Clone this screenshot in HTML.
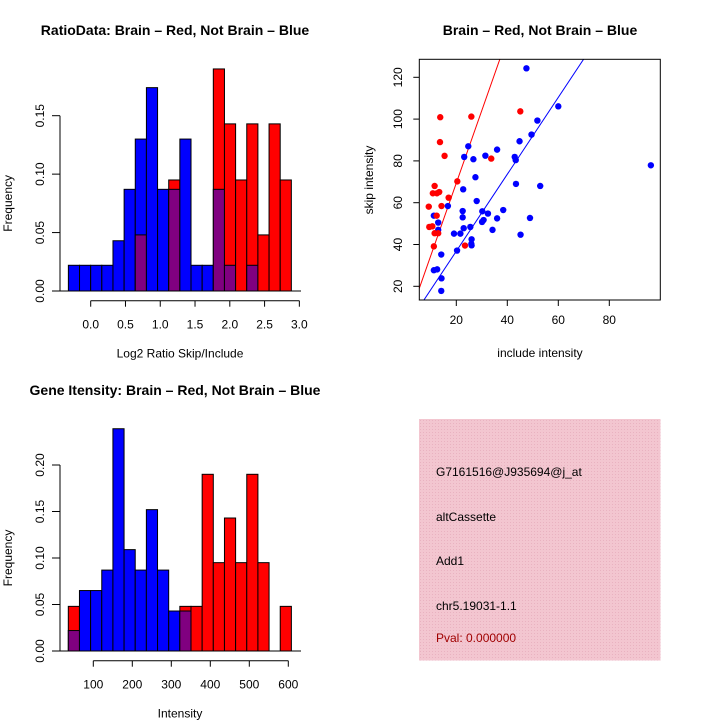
<!DOCTYPE html>
<html><head><meta charset="utf-8"><style>
html,body{margin:0;padding:0;background:#fff;}
svg{display:block;font-family:"Liberation Sans",sans-serif;}
</style></head><body>
<svg id="c" width="720" height="720" viewBox="0 0 720 720">
<rect width="720" height="720" fill="#fff"/>
<defs><pattern id="hatch" width="3" height="3" patternUnits="userSpaceOnUse"><rect width="3" height="3" fill="#f3c6d0"/><rect width="1" height="1" fill="#e9b2c0"/></pattern></defs>
<g id="p1"></g>
<g id="p2"></g>
<g id="p3"></g>
<g id="p4">
<rect x="419" y="419" width="241.5" height="241.5" fill="url(#hatch)"/>
<text x="436" y="476" font-size="12">G7161516@J935694@j_at</text>
<text x="436" y="521" font-size="12">altCassette</text>
<text x="436" y="565" font-size="12">Add1</text>
<text x="436" y="610" font-size="12">chr5.19031-1.1</text>
<text x="436" y="642" font-size="12" fill="#a00000">Pval: 0.000000</text>
</g>
</svg>
<script>
// ---- histogram 1 data ----
const h1Start = -0.321, h1Width = 0.1603;
const h1Blue = [0.022,0.022,0.022,0.022,0.043,0.087,0.130,0.174,0.087,0.087,0.130,0.022,0.022,0.087,0.022,0,0.022,0,0,0];
const h1Red  = [0,0,0,0,0,0,0.048,0,0,0.095,0,0,0,0.190,0.143,0.095,0.143,0.048,0.143,0.095];
const h1XTicks = [0.0,0.5,1.0,1.5,2.0,2.5,3.0];
const h1XLabels = ["0.0","0.5","1.0","1.5","2.0","2.5","3.0"];
const h1YTicks = [0,0.05,0.10,0.15];
const h1YLabels = ["0.00","0.05","0.10","0.15"];
// ---- histogram 2 data ----
const h2Start = 35.9, h2Width = 28.6;
const h2Blue = [0.022,0.065,0.065,0.087,0.239,0.109,0.087,0.152,0.087,0.043,0.043,0,0,0,0,0,0,0,0,0];
const h2Red  = [0.048,0,0,0,0,0,0,0,0,0,0.048,0.048,0.190,0.095,0.143,0.095,0.190,0.095,0,0.048];
const h2XTicks = [100,200,300,400,500,600];
const h2XLabels = ["100","200","300","400","500","600"];
const h2YTicks = [0,0.05,0.10,0.15,0.20];
const h2YLabels = ["0.00","0.05","0.10","0.15","0.20"];
// ---- scatter data ----
const blueX = [47.5,60,51.8,49.5,44.8,24.7,36,31.4,23.1,42.9,26.7,43.3,96.3,27.5,43.4,52.9,22.7,28,16.7,38.4,22.5,30.2,32.4,11.2,22.5,36,48.9,30.7,30.1,12.9,12.9,22.9,25.5,34.2,19.1,21.6,45.2,26,25.9,26,20.3,14.1,11.2,12.5,14.2,14.1];
const blueY = [124.3,106.1,99.3,92.6,89.4,87,85.4,82.5,81.9,81.9,80.8,80.4,77.9,72.2,69,68,66.4,60.8,58.4,56.5,56,55.9,54.8,53.8,53,52.5,52.7,51.7,50.8,50.5,47,47.8,48.4,47,45.2,45.2,44.7,42.5,40.3,39.6,37.1,35.2,27.7,28.1,23.8,17.8];
const redX = [13.7,25.9,45.1,13.6,15.4,33.7,20.4,11.5,10.8,13.3,12.4,17,9.2,14.2,12.3,10.6,9.4,11.5,12.9,11.2,23.4];
const redY = [100.9,101.2,103.7,89,82.4,81.1,70.2,68,64.5,65.1,64.5,62.4,58.1,58.4,53.8,48.7,48.4,45.4,45.4,39.1,39.5];
const fitSlopes = [3.47,1.84];
const sXTicks = [20,40,60,80];
const sYTicks = [20,40,60,80,100,120];

const NS="http://www.w3.org/2000/svg";
function mk(parent,tag,attrs){const e=document.createElementNS(NS,tag);for(const k in attrs)e.setAttribute(k,attrs[k]);parent.appendChild(e);return e;}
function txt(parent,x,y,s,size,rot,anchor,weight){const t=mk(parent,'text',{x:x,y:y,'font-size':size,'text-anchor':anchor||'middle'});if(weight)t.setAttribute('font-weight',weight);if(rot)t.setAttribute('transform','rotate(-90 '+x+' '+y+')');t.textContent=s;return t;}

function hist(g,o){
  const sx=v=>o.x0+(v-o.xv0)*o.kx, sy=v=>o.y0-v*o.ky;
  for(let i=0;i<o.blue.length;i++){
    const a=o.start+i*o.width, b=a+o.width, bl=o.blue[i], rd=o.red[i];
    const x=sx(a), w=sx(b)-sx(a);
    const hi=Math.max(bl,rd), lo=Math.min(bl,rd);
    if(hi>0){
      const r=mk(g,'rect',{x:x,y:sy(hi),width:w,height:sy(0)-sy(hi),fill:bl>=rd?'#0000ff':'#ff0000',stroke:'#000','stroke-width':1});
      
      
    }
    if(lo>0){
      const r=mk(g,'rect',{x:x,y:sy(lo),width:w,height:sy(0)-sy(lo),fill:'#800080',stroke:'#000','stroke-width':1});
      
      
    }
  }
  mk(g,'line',{x1:o.yAxisX-8,y1:sy(0),x2:o.baseEnd,y2:sy(0),stroke:'#000'});
  // y axis
  const yt=o.yTicks;
  mk(g,'line',{x1:o.yAxisX,y1:sy(yt[0]),x2:o.yAxisX,y2:sy(yt[yt.length-1]),stroke:'#000'});
  yt.forEach((v,i)=>{mk(g,'line',{x1:o.yAxisX-8,y1:sy(v),x2:o.yAxisX,y2:sy(v),stroke:'#000'});txt(g,o.yAxisX-16,sy(v),o.yLabels[i],12,true);});
  const xt=o.xTicks;
  mk(g,'line',{x1:sx(xt[0]),y1:o.xAxisY,x2:sx(xt[xt.length-1]),y2:o.xAxisY,stroke:'#000'});
  xt.forEach((v,i)=>{mk(g,'line',{x1:sx(v),y1:o.xAxisY,x2:sx(v),y2:o.xAxisY+6,stroke:'#000'});txt(g,sx(v),o.xAxisY+28,o.xLabels[i],12);});
  txt(g,12,(sy(0)+sy(yt[yt.length-1]))/2,'Frequency',12,true);
  txt(g,180,o.xAxisY+57,o.xTitle,12);
  txt(g,175,o.titleY,o.title,14,false,'middle','bold');
}
hist(document.getElementById('p1'),{x0:90.7,xv0:0,kx:69.55,y0:291,ky:1168.7,start:h1Start,width:h1Width,blue:h1Blue,red:h1Red,
  yTicks:h1YTicks,yLabels:h1YLabels,xTicks:h1XTicks,xLabels:h1XLabels,yAxisX:60,xAxisY:300.7,baseEnd:301,
  xTitle:'Log2 Ratio Skip/Include',title:'RatioData: Brain \u2013 Red, Not Brain \u2013 Blue',titleY:35});
hist(document.getElementById('p3'),{x0:93.3,xv0:100,kx:0.39,y0:651,ky:930,start:h2Start,width:h2Width,blue:h2Blue,red:h2Red,
  yTicks:h2YTicks,yLabels:h2YLabels,xTicks:h2XTicks,xLabels:h2XLabels,yAxisX:60,xAxisY:660.7,baseEnd:301,
  xTitle:'Intensity',title:'Gene Itensity: Brain \u2013 Red, Not Brain \u2013 Blue',titleY:395});

// scatter
(function(){
  const g=document.getElementById('p2');
  const L=419.3,R=660.3,T=59.3,B=300;
  const sx=v=>405.3+v*2.55, sy=v=>286.3-(v-20)*2.09;
  const cp=mk(g,'clipPath',{id:'sc'});mk(cp,'rect',{x:L,y:T,width:R-L,height:B-T});
  const inner=mk(g,'g',{'clip-path':'url(#sc)'});
  const xa=(L-405.3)/2.55, xb=(R-405.3)/2.55;
  fitSlopes.forEach((s,i)=>{
    const l=mk(inner,'line',{x1:sx(xa),y1:sy(s*xa),x2:sx(xb),y2:sy(s*xb),stroke:i==0?'#ff0000':'#0000ff','stroke-width':1});
    
    
  });
  blueX.forEach((x,i)=>{const c=mk(inner,'circle',{cx:sx(x),cy:sy(blueY[i]),r:3.2,fill:'#0000ff'});
    
    });
  redX.forEach((x,i)=>{const c=mk(inner,'circle',{cx:sx(x),cy:sy(redY[i]),r:3.2,fill:'#ff0000'});
    
    });
  mk(g,'rect',{x:L,y:T,width:R-L,height:B-T,fill:'none',stroke:'#000'});
  sXTicks.forEach(v=>{mk(g,'line',{x1:sx(v),y1:B,x2:sx(v),y2:B+6,stroke:'#000'});txt(g,sx(v),324,String(v),12);});
  sYTicks.forEach(v=>{mk(g,'line',{x1:L-6,y1:sy(v),x2:L,y2:sy(v),stroke:'#000'});txt(g,402,sy(v),String(v),12,true);});
  txt(g,540,357,'include intensity',12);
  txt(g,373,180,'skip intensity',12,true);
  txt(g,540,35,'Brain \u2013 Red, Not Brain \u2013 Blue',14,false,'middle','bold');
})();
</script>
</body></html>
